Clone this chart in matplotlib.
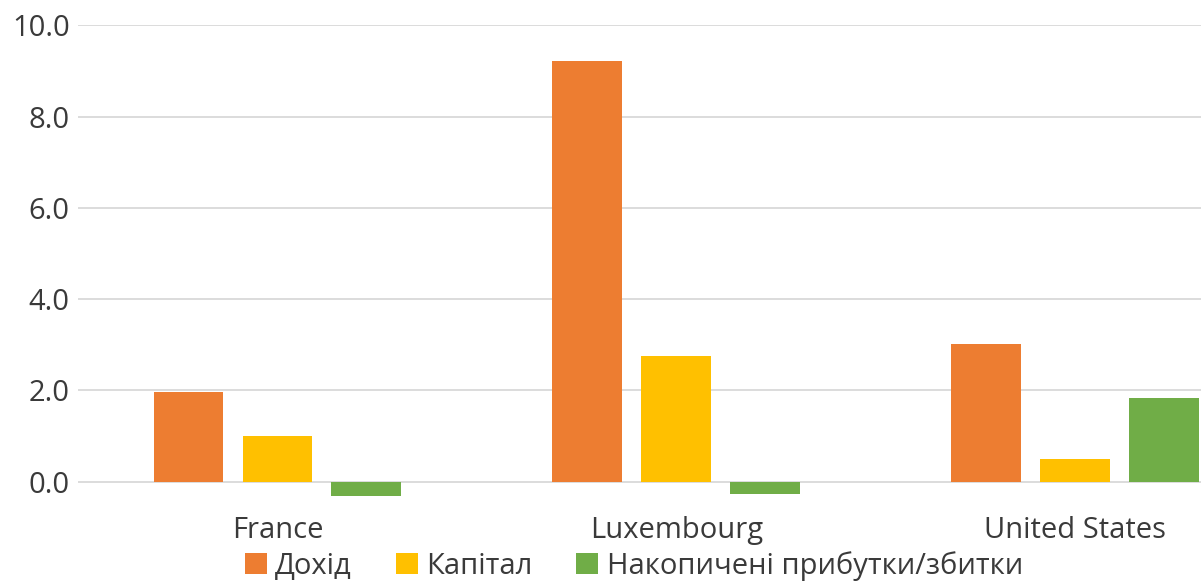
import matplotlib.pyplot as plt
import numpy as np

plt.rcParams['font.family'] = ['Open Sans', 'DejaVu Sans']

countries = ['France', 'Luxembourg', 'United States']
series_names = ['Дохід', 'Капітал', 'Накопичені прибутки/збитки']
income = [1.96, 9.21, 3.01]
capital = [0.99, 2.76, 0.50]
retained = [-0.31, -0.28, 1.84]
colors = ['#ED7D31', '#FFC000', '#70AD47']

fig = plt.figure(figsize=(12.01, 5.81), dpi=100)
ax = fig.add_axes([78/1201, 1-504.5/581, 1-78/1201, (504.5-25.3)/581])

x = np.arange(len(countries))
step = 0.223
w = 0.175
for i, vals in enumerate([income, capital, retained]):
    ax.bar(x + (i-1)*step, vals, w, color=colors[i], label=series_names[i], zorder=3)

ax.set_ylim(-0.5, 10)
ax.set_xlim(-0.5, 2.316)
ax.set_yticks([0, 2, 4, 6, 8, 10])
ax.set_yticklabels(['%.1f' % v for v in [0, 2, 4, 6, 8, 10]])
ax.yaxis.grid(True, color='#d9d9d9', linewidth=1.3, zorder=0)
for s in ax.spines.values():
    s.set_visible(False)
ax.tick_params(axis='both', length=0, colors='#3a3a3a', labelsize=21)
ax.tick_params(axis='y', pad=6)
ax.tick_params(axis='x', pad=8)
ax.set_xticks(x)
ax.set_xticklabels(countries)

fig.legend(loc='center', bbox_to_anchor=(634/1201, 1-566/581), ncol=3, frameon=False,
           fontsize=21, handlelength=0.75, handleheight=0.75, handletextpad=0.3,
           columnspacing=1.5, labelcolor='#3a3a3a', borderaxespad=0, borderpad=0)

fig.savefig('out.png', dpi=100)
